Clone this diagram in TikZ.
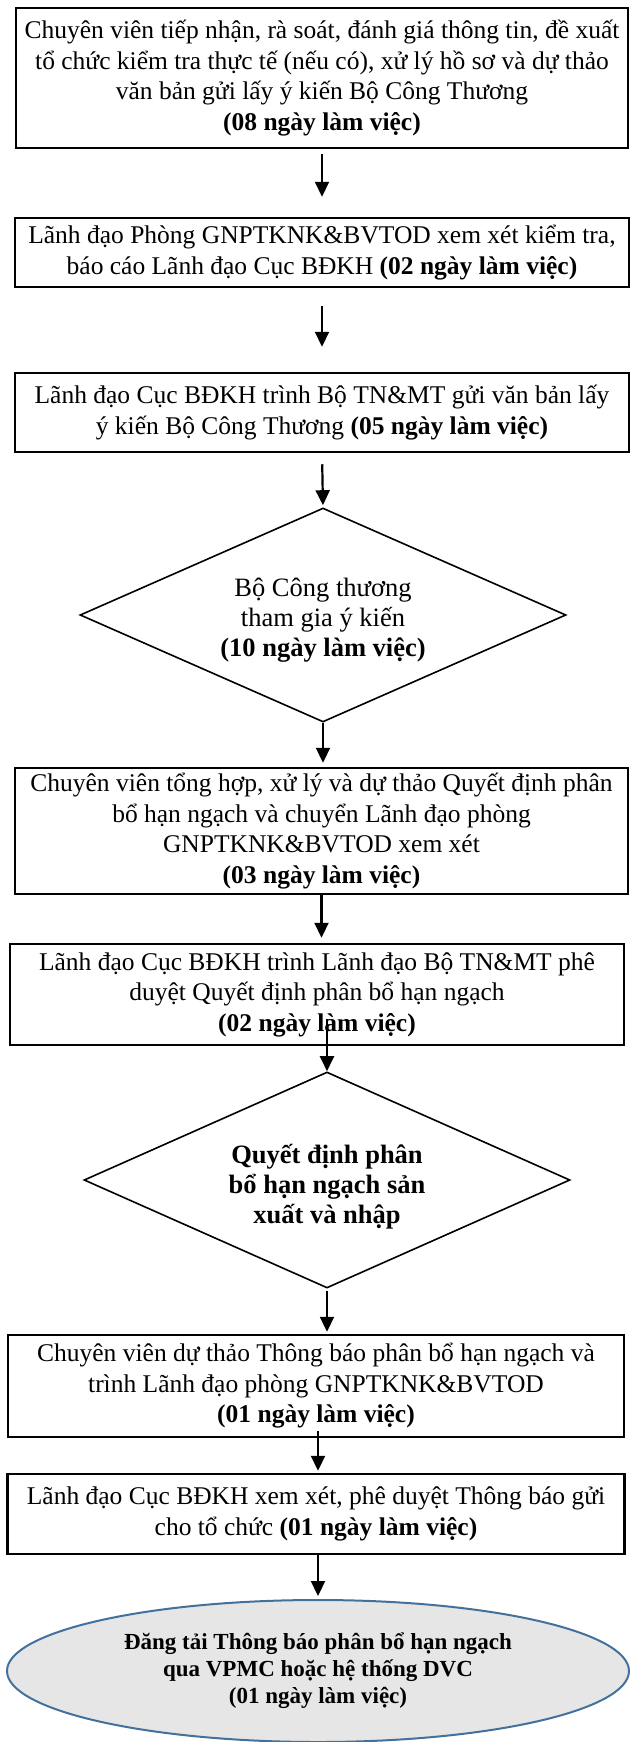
\documentclass[tikz,border=0pt]{standalone}
\usepackage{fontspec}
\setmainfont{Liberation Serif}
\usepackage{tikz}
\usetikzlibrary{positioning}
\usetikzlibrary{shapes.geometric,arrows.meta}

\definecolor{endfill}{RGB}{231,230,230}
\definecolor{endline}{RGB}{65,113,156}

\tikzset{
  stepbox/.style={draw, line width=2.5pt, rectangle, align=center, inner sep=0pt,
    font=\fontsize{25.5}{30.5}\selectfont},
  choice/.style={draw, line width=1.6pt, diamond, aspect=2.27, inner sep=0pt},
  choicetext/.style={align=center, inner sep=0pt, font=\fontsize{26.5}{30}\selectfont},
  finish/.style={draw=endline, fill=endfill, line width=2pt, ellipse, align=center, inner sep=0pt,
    font=\fontsize{23}{27}\selectfont\bfseries},
  arr/.style={line width=2.2pt, -{Triangle[length=15pt,width=14pt]}}
}

\begin{document}
\begin{tikzpicture}[x=1pt,y=1pt]
\useasboundingbox (0,0) rectangle (629,-1742);

\node[stepbox, minimum width=612pt, minimum height=140pt] (b1) at (322,-78)
  {Chuyên viên tiếp nhận, rà soát, đánh giá thông tin, đề xuất\\
   tổ chức kiểm tra thực tế (nếu có), xử lý hồ sơ và dự thảo\\
   văn bản gửi lấy ý kiến Bộ Công Thương\\
   \textbf{(08 ngày làm việc)}};
\node[stepbox, minimum width=614pt, minimum height=69pt] (b2) at (322,-252.5)
  {Lãnh đạo Phòng GNPTKNK\&BVTOD xem xét kiểm tra,\\
   báo cáo Lãnh đạo Cục BĐKH \textbf{(02 ngày làm việc)}};
\node[stepbox, minimum width=614pt, minimum height=79pt] (b3) at (322,-412.5)
  {Lãnh đạo Cục BĐKH trình Bộ TN\&MT gửi văn bản lấy\\
   ý kiến Bộ Công Thương \textbf{(05 ngày làm việc)}};
\node[choice, minimum width=486pt, minimum height=214pt] (d1) at (323,-615) {};
\node[choicetext] (d1txt) at ([yshift=-5pt]d1.center)
  {Bộ Công thương\\ tham gia ý kiến\\ \textbf{(10 ngày làm việc)}};
\node[stepbox, minimum width=613pt, minimum height=126pt] (b4) at (321.5,-831)
  {Chuyên viên tổng hợp, xử lý và dự thảo Quyết định phân\\
   bổ hạn ngạch và chuyển Lãnh đạo phòng\\
   GNPTKNK\&BVTOD xem xét\\
   \textbf{(03 ngày làm việc)}};
\node[stepbox, minimum width=614pt, minimum height=101pt] (b5) at (317,-994.5)
  {Lãnh đạo Cục BĐKH trình Lãnh đạo Bộ TN\&MT phê\\
   duyệt Quyết định phân bổ hạn ngạch\\
   \textbf{(02 ngày làm việc)}};
\node[choice, minimum width=486pt, minimum height=216pt] (d2) at (327,-1180) {};
\node[choicetext, font=\fontsize{26.5}{30}\selectfont\bfseries] (d2txt) at ([yshift=-7pt]d2.center)
  {Quyết định phân\\ bổ hạn ngạch sản\\ xuất và nhập};
\node[stepbox, minimum width=616pt, minimum height=102pt] (b6) at (316,-1386)
  {Chuyên viên dự thảo Thông báo phân bổ hạn ngạch và\\
   trình Lãnh đạo phòng GNPTKNK\&BVTOD\\
   \textbf{(01 ngày làm việc)}};
\node[stepbox, minimum width=617pt, minimum height=80pt] (b7) at (316,-1514)
  {Lãnh đạo Cục BĐKH xem xét, phê duyệt Thông báo gửi\\
   cho tổ chức \textbf{(01 ngày làm việc)}};
\node[finish, minimum width=622pt, minimum height=142pt] (e1) at (318,-1671)
  {Đăng tải Thông báo phân bổ hạn ngạch\\
   qua VPMC hoặc hệ thống DVC\\
   (01 ngày làm việc)};

% connectors
\draw[arr, shorten <=5pt, shorten >=20pt] (b1.south) -- (b2.north);
\draw[arr, shorten <=18pt, shorten >=25pt] (b2.south) -- (b3.north);
\draw[arr, shorten <=11pt, shorten >=2pt] (b3.south) -- (d1.north);
\draw[arr, shorten >=4pt] (d1.south) -- (d1.south |- b4.north);
\draw[arr, shorten >=5pt] (b4.south) -- (b4.south |- b5.north);
\draw[arr, shorten <=-27pt] (d2.north |- b5.south) -- (d2.north);
\draw[arr, shorten <=2pt, shorten >=2pt] (d2.south) -- (d2.south |- b6.north);
\draw[arr, shorten <=-7pt, shorten >=2pt] (b6.south -| e1.north) -- (e1.north |- b7.north);
\draw[arr, shorten >=3pt] (b7.south -| e1.north) -- (e1.north);
\end{tikzpicture}
\end{document}
